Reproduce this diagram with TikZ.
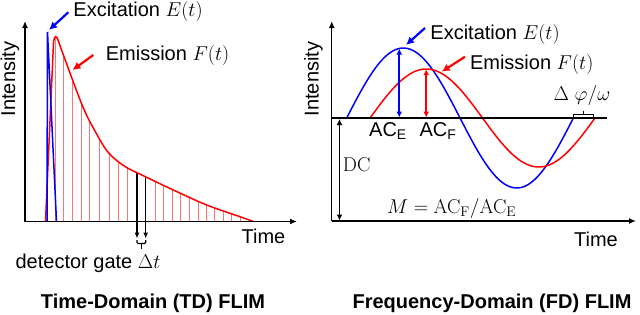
\RequirePackage{fix-cm}
\documentclass[tikz,border=0pt]{standalone}
\usepackage[no-math]{fontspec}
\setmainfont{Liberation Sans}
\usetikzlibrary{arrows.meta,positioning,calc}

\newcommand\emissioncurve{(45.5,221.5) -- (53.6,41) .. controls (54.8,35.5) and (56.3,35.3) .. (57.8,39.5) -- plot[smooth, tension=0.55] coordinates {(57.8,39.5) (81.7,104) (95,131) (108.3,152.5) (125,166.5) (145,176.5) (173.3,190) (206.7,205) (240,216.7) (253.3,221.5)}}

\begin{document}
\begin{tikzpicture}[
  x=1pt, y=-1pt,
  txt/.style={font=\fontsize{20}{23}\selectfont, inner sep=0pt},
  ttl/.style={font=\fontsize{20}{23}\selectfont\bfseries, inner sep=0pt},
  axis/.style={line width=1.4pt, -{Latex[length=7pt,width=6pt]}},
  exc/.style={blue, line width=1.5pt},
  emi/.style={red, line width=1.5pt},
  bar/.style={red!55, line width=0.9pt},
  gate/.style={line width=1.1pt, -{Latex[length=6pt,width=5pt]}},
  pointer/.style={line width=2.2pt, -{Latex[length=8pt,width=8pt]}},
  amp/.style={line width=2pt, {Latex[length=6pt,width=6pt]}-{Latex[length=6pt,width=6pt]}}
]
  \useasboundingbox (0,0) rectangle (640,314);

  % time domain
  \coordinate (tdO) at (25,221.5);
  \coordinate (tdY) at (25,21);
  \coordinate (tdX) at (297,221.5);

  \begin{scope}
    \clip \emissioncurve -- cycle;
    \foreach \x in {55.5,63.8,72.2,81,89.5,99.3,109,118,127.5,155,163.5,172.3,180.7,189.3,198.3,206.7,214.8,223.3,231.7,240.5}
      \draw[bar] (\x,221.5) -- (\x,25);
  \end{scope}

  \coordinate (gateA) at (137,172.5);
  \coordinate (gateB) at (145.7,176.8);
  \coordinate (gateAend) at (137,238.5);
  \coordinate (gateBend) at (145.7,238.5);
  \draw[gate] (gateA) -- (gateAend);
  \draw[gate] (gateB) -- (gateBend);
  \draw[line width=1.1pt, rounded corners=1.2pt] ($(gateAend)+(0,1.5)$) |- ($(gateAend)!0.5!(gateBend)+(0,5)$) -| ($(gateBend)+(0,1.5)$);
  \coordinate (gateMid) at ($(gateAend)!0.5!(gateBend)+(0,5)$);
  \coordinate (gateStem) at ($(gateMid)+(0,5)$);
  \draw[line width=1.1pt] (gateMid) -- (gateStem);

  \draw[emi] \emissioncurve;
  \draw[exc] (47,221.5) -- (47.5,32) -- (56.5,221.5);

  \draw[axis] (tdO) -- (tdY);
  \draw[axis] (tdO) -- (tdX);

  \node[txt, rotate=90] (tdInt) at (10,79) {Intensity};
  \node[txt, anchor=base] (tdTime) at (263.5,243.5) {Time};
  \node[txt, anchor=base] (tdGate) at (88,268) {detector gate $\Delta t$};
  \node[txt, anchor=base] (tdExc) at (138,16.7) {Excitation $E(t)$};
  \node[txt, anchor=base] (tdEmi) at (167.5,60) {Emission $F(t)$};
  \node[ttl, anchor=base] (tdTitle) at (153,308) {Time-Domain (TD) FLIM};

  \coordinate (tdExcTail) at (68.3,12.3);
  \coordinate (tdExcTip) at (49,30);
  \coordinate (tdEmiTail) at (93.3,55);
  \coordinate (tdEmiTip) at (72.5,70);
  \draw[pointer, blue] (tdExcTail) -- (tdExcTip);
  \draw[pointer, red] (tdEmiTail) -- (tdEmiTip);

  % frequency domain
  \coordinate (fdO) at (331.7,221);
  \coordinate (fdY) at (331.7,21);
  \coordinate (fdX) at (636,221);
  \coordinate (fdDC) at (331.7,118);
  \coordinate (fdDCend) at (606.7,118);

  \draw[exc] plot[domain=346.7:573.3, samples=90] (\x,{118-70*sin((\x-346.7)/226.7*360)});
  \draw[emi] plot[domain=370:595, samples=90] (\x,{118-49*sin((\x-370)/225*360)});

  \draw[axis] (fdO) -- (fdY);
  \draw[axis] (fdO) -- (fdX);
  \draw[line width=2pt] (fdDC) -- (fdDCend);

  \coordinate (acEtop) at (399.3,48.6);
  \coordinate (acEbot) at (399.3,117.5);
  \coordinate (acFtop) at (426.2,69.2);
  \coordinate (acFbot) at (426.2,117.5);
  \coordinate (dcTop) at (339.5,119);
  \coordinate (dcBot) at (339.5,220.5);
  \draw[amp, blue] (acEbot) -- (acEtop);
  \draw[amp, red] (acFbot) -- (acFtop);
  \draw[amp, line width=1.6pt] (dcBot) -- (dcTop);

  \draw[line width=1.2pt] (573.3,118) |- (593.3,114.5) -- (593.3,118);
  \draw[line width=1.2pt] (583.3,114.5) -- (583.3,110.5);

  \node[txt, rotate=90] (fdInt) at (313.5,79) {Intensity};
  \node[txt, anchor=base] (fdTime) at (596,246) {Time};
  \node[txt, anchor=base] (fdExc) at (495,39.5) {Excitation $E(t)$};
  \node[txt, anchor=base] (fdEmi) at (531.7,69.3) {Emission $F(t)$};
  \node[txt, anchor=base] (acE) at (388,136.7) {AC\textsubscript{E}};
  \node[txt, anchor=base] (acF) at (438,136.7) {AC\textsubscript{F}};
  \node[txt, anchor=base] (dcLbl) at (356.7,171) {$\mathrm{DC}$};
  \node[txt, anchor=base] (modLbl) at (451.7,213.3) {$M=\mathrm{AC_F}/\mathrm{AC_E}$};
  \node[txt, anchor=base] (phLbl) at (582,100) {$\Delta\ \varphi/\omega$};
  \node[ttl, anchor=base] (fdTitle) at (492,308) {Frequency-Domain (FD) FLIM};

  \coordinate (fdExcTail) at (425,28);
  \coordinate (fdExcTip) at (406,45);
  \coordinate (fdEmiTail) at (465,56.7);
  \coordinate (fdEmiTip) at (441.7,71.7);
  \draw[pointer, blue] (fdExcTail) -- (fdExcTip);
  \draw[pointer, red] (fdEmiTail) -- (fdEmiTip);
\end{tikzpicture}
\end{document}
